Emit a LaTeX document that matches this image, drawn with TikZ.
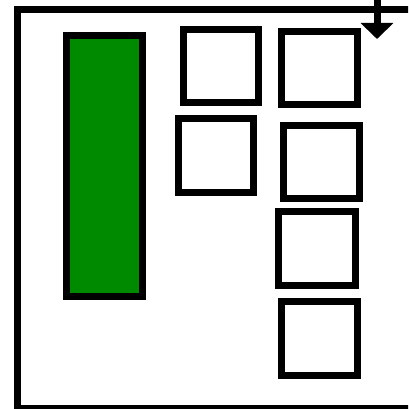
\documentclass[tikz,border=0pt]{standalone}
\usetikzlibrary{arrows.meta}
\definecolor{boxgreen}{RGB}{0,138,0}
\begin{document}
\begin{tikzpicture}[x=1pt,y=-1pt,
  box/.style={draw=black, line width=7pt, fill=white, inner sep=0pt, outer sep=0pt, minimum width=76pt, minimum height=73pt},
  frame/.style={draw=black, line width=7pt}]
\useasboundingbox (0,0) rectangle (408,409);
\clip (0,0) rectangle (408,409);
\draw[frame] (17.5,10) rectangle (430,408.5);
\node[box, fill=boxgreen, minimum width=76pt, minimum height=261pt] (green) at (104.5,166) {};
\node[box, minimum width=75pt] (a) at (221,66) {};
\node[box, minimum width=75pt, minimum height=74pt] (b) at (216,155.5) {};
\node[box] (c) at (319.5,68) {};
\node[box] (d) at (321.5,162) {};
\node[box, minimum width=77pt, minimum height=74pt] (e) at (317,248.5) {};
\node[box, minimum height=74pt] (f) at (319.5,338.5) {};
\coordinate (arrtop) at (377,-10);
\coordinate (arrtip) at (377,39);
\draw[line width=7pt, -{Triangle[width=32pt,length=16pt]}] (arrtop) -- (arrtip);
\end{tikzpicture}
\end{document}
